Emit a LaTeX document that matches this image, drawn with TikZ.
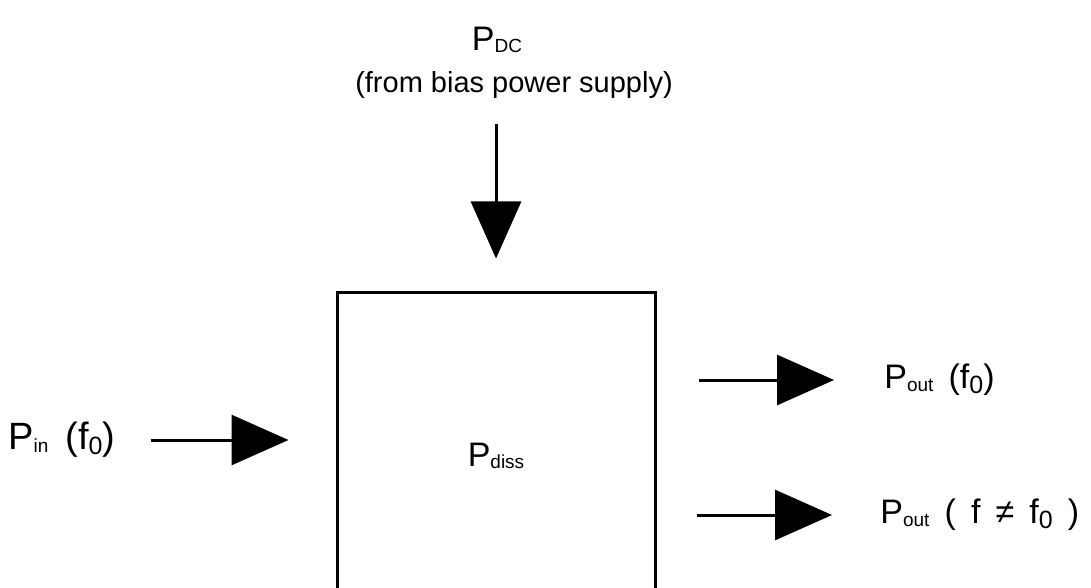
\documentclass[tikz,border=0pt]{standalone}
\usepackage{fontspec}
\setmainfont{Liberation Sans}
\usetikzlibrary{positioning,arrows.meta}
\newcommand{\idx}[1]{\raisebox{-1.2pt}{\fontsize{9.5}{10}\selectfont #1}}
\newcommand{\fidx}[1]{\raisebox{-2.5pt}{\fontsize{12.5}{13}\selectfont #1}}
\tikzset{
  lbl/.style={inner sep=0pt,font=\fontsize{17}{20}\selectfont},
  flow/.style={line width=1.5pt,-{Triangle[length=28.5pt,width=25pt]}},
}
\begin{document}
\begin{tikzpicture}[x=0.5pt,y=-0.5pt]
\path[use as bounding box,clip] (0,0) rectangle (1091,588);
\node[draw,line width=1.5pt,minimum width=159pt,minimum height=164pt,lbl] (amp) at (496,456) {P\idx{diss}};
\node[lbl] (pdc) at (497,40) {P\idx{DC}};
\node[lbl,font=\fontsize{14.5}{17}\selectfont] (src) at (514,85) {(from bias power supply)};
\node[lbl,anchor=west,font=\fontsize{19}{22}\selectfont] (pin) at (8,440) {P\idx{in} \,(f\fidx{0})};
\node[lbl,anchor=west] (pout1) at (884,380) {P\idx{out} \,(f\fidx{0})};
\node[lbl,anchor=west] (pout2) at (880,515) {P\idx{out} \,(\, f \,≠\, f\fidx{0}\, )};
\draw[flow,shorten <=12.5pt,shorten >=16pt] (src.south -| amp.north) -- (amp.north);
\draw[flow,shorten <=17.5pt,shorten >=23.5pt] (pin.east) -- (pin.east -| amp.west);
\draw[flow,shorten <=21pt,shorten >=25pt] (amp.east |- pout1.west) -- (pout1.west);
\draw[flow,shorten <=20pt,shorten >=24pt] (amp.east |- pout2.west) -- (pout2.west);
\end{tikzpicture}
\end{document}
